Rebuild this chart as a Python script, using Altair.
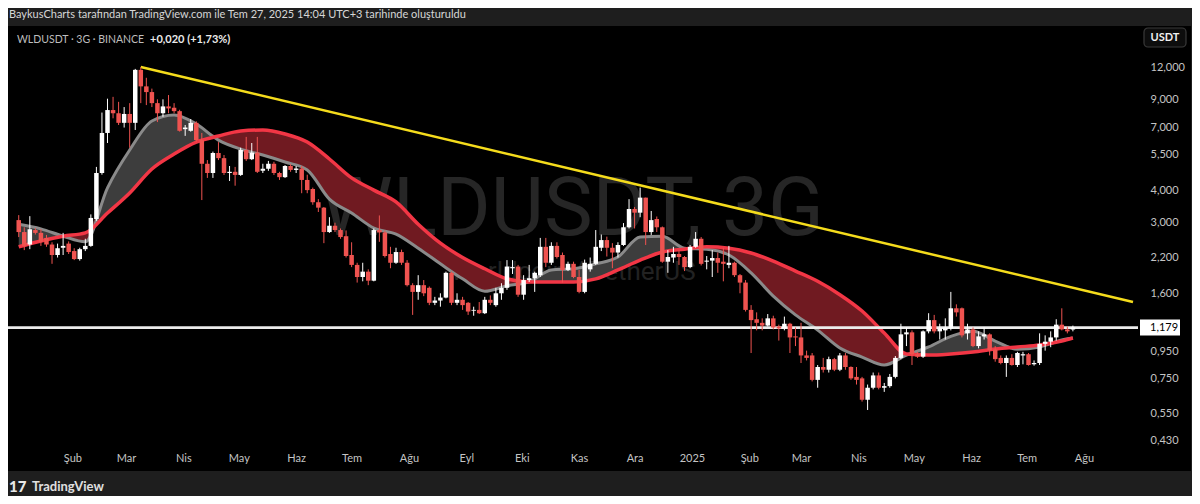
import altair as alt
import pandas as pd

# ---------------- data ----------------
FIRST_BAR = "2024-01-03"      # first 3-day candle
BAR_FREQ = "3D"

OPEN = [3.07, 2.76, 2.47, 2.81, 2.74, 2.62, 2.47, 2.25, 2.40, 2.49,
        2.33, 2.17, 2.37, 2.44, 3.10, 4.67, 6.67, 8.18, 7.95, 7.30,
        7.90, 7.30, 11.70, 10.10, 9.60, 8.70, 7.95, 8.45, 8.35, 8.10,
        6.90, 6.80, 7.30, 6.26, 5.07, 4.67, 5.58, 5.33, 4.67, 4.72,
        4.59, 5.73, 5.28, 5.60, 4.76, 4.85, 5.07, 4.67, 4.50, 4.97,
        4.80, 4.86, 4.39, 4.05, 3.60, 3.43, 2.76, 2.92, 2.81, 2.66,
        2.25, 2.06, 1.85, 1.94, 1.79, 2.81, 2.75, 2.27, 2.10, 2.31,
        2.10, 1.72, 1.62, 1.72, 1.68, 1.47, 1.50, 1.54, 1.92, 1.47,
        1.51, 1.47, 1.37, 1.38, 1.34, 1.51, 1.44, 1.60, 1.68, 2.00,
        2.03, 1.58, 1.80, 1.83, 1.88, 2.42, 2.10, 2.44, 2.25, 1.97,
        2.08, 1.85, 1.62, 1.98, 2.08, 2.40, 2.57, 2.40, 2.30, 2.46,
        2.88, 3.39, 3.28, 3.75, 2.76, 3.10, 2.88, 2.12, 2.20, 2.27,
        2.21, 2.02, 2.42, 2.60, 2.12, 2.14, 2.19, 2.12, 2.06, 2.10,
        1.88, 1.76, 1.38, 1.27, 1.23, 1.20, 1.28, 1.19, 1.17, 1.22,
        1.09, 1.08, 0.92, 0.92, 0.74, 0.83, 0.81, 0.89, 0.81, 0.92,
        0.83, 0.76, 0.75, 0.62, 0.69, 0.77, 0.69, 0.70, 0.76, 0.90,
        1.11, 1.13, 0.93, 0.91, 1.14, 1.26, 1.14, 1.15, 1.17, 1.40,
        1.40, 1.12, 1.16, 1.00, 1.09, 1.11, 0.97, 0.90, 0.86, 0.90,
        0.845, 0.92, 0.93, 0.85, 0.86, 1.02, 1.04, 1.08, 1.21, 1.16,
        1.159]

HIGH = [3.21, 2.88, 3.18, 2.86, 2.83, 2.69, 2.52, 2.49, 2.74, 2.54,
        2.39, 2.40, 2.60, 3.23, 4.93, 8.00, 9.05, 9.20, 8.80, 8.40,
        8.70, 11.80, 12.00, 10.90, 9.90, 9.00, 9.00, 9.35, 8.70, 8.20,
        7.16, 7.55, 7.40, 6.67, 5.24, 5.65, 6.15, 5.48, 4.97, 4.93,
        5.85, 6.44, 6.10, 6.44, 5.07, 5.20, 5.16, 4.72, 5.01, 5.05,
        4.97, 4.97, 4.60, 4.10, 3.70, 3.45, 3.15, 3.00, 2.85, 2.80,
        2.52, 2.10, 2.10, 1.98, 2.85, 3.20, 2.80, 2.42, 2.40, 2.36,
        2.15, 1.75, 1.88, 1.80, 1.70, 1.55, 1.60, 1.94, 1.94, 1.60,
        1.55, 1.48, 1.42, 1.48, 1.55, 1.57, 1.68, 1.75, 2.15, 2.15,
        2.06, 1.88, 2.06, 1.94, 2.62, 2.62, 2.52, 2.52, 2.30, 2.12,
        2.12, 1.97, 2.16, 2.20, 2.81, 2.70, 2.65, 2.50, 2.52, 2.99,
        3.70, 3.45, 4.10, 3.75, 3.33, 3.17, 2.90, 2.35, 2.42, 2.35,
        2.23, 2.46, 2.76, 2.64, 2.23, 2.35, 2.30, 2.40, 2.44, 2.12,
        1.90, 1.80, 1.44, 1.35, 1.28, 1.33, 1.31, 1.21, 1.30, 1.23,
        1.18, 1.23, 0.96, 0.94, 0.845, 0.90, 0.91, 0.90, 0.94, 0.94,
        0.835, 0.83, 0.76, 0.71, 0.79, 0.79, 0.72, 0.78, 0.915, 1.22,
        1.18, 1.15, 0.95, 1.15, 1.34, 1.32, 1.22, 1.28, 1.62, 1.45,
        1.41, 1.22, 1.18, 1.14, 1.18, 1.12, 1.00, 0.92, 0.92, 0.93,
        0.95, 0.95, 0.94, 0.88, 1.12, 1.10, 1.14, 1.27, 1.40, 1.19,
        1.20]

LOW = [2.64, 2.35, 2.37, 2.70, 2.44, 2.42, 2.08, 2.20, 2.25, 2.27,
       2.15, 2.14, 2.33, 2.42, 3.05, 4.60, 6.10, 7.60, 7.16, 7.00,
       5.85, 6.85, 8.70, 8.55, 8.40, 7.35, 7.70, 7.95, 7.95, 6.75,
       6.50, 6.75, 6.15, 3.67, 4.47, 4.47, 5.24, 4.59, 4.35, 4.17,
       4.55, 5.20, 5.24, 4.67, 4.67, 4.76, 4.59, 4.39, 4.47, 4.72,
       4.67, 3.90, 3.90, 3.52, 3.30, 2.50, 2.74, 2.76, 2.60, 2.20,
       2.02, 1.76, 1.78, 1.72, 1.78, 2.53, 2.20, 2.00, 2.08, 2.06,
       1.70, 1.32, 1.51, 1.56, 1.44, 1.44, 1.42, 1.53, 1.44, 1.44,
       1.38, 1.32, 1.31, 1.33, 1.33, 1.44, 1.42, 1.51, 1.65, 1.90,
       1.55, 1.51, 1.77, 1.62, 1.85, 2.02, 2.06, 2.18, 1.76, 1.95,
       1.83, 1.60, 1.60, 1.94, 2.06, 2.33, 2.22, 2.00, 2.20, 2.44,
       2.85, 2.85, 3.15, 2.46, 2.69, 2.76, 2.10, 1.92, 2.10, 2.06,
       1.95, 2.00, 2.40, 2.05, 1.98, 1.85, 1.92, 1.78, 2.00, 1.85,
       1.60, 1.36, 0.94, 1.15, 1.15, 1.19, 1.16, 1.05, 1.15, 0.94,
       1.00, 0.86, 0.88, 0.73, 0.69, 0.79, 0.79, 0.80, 0.80, 0.81,
       0.74, 0.71, 0.61, 0.566, 0.68, 0.68, 0.665, 0.69, 0.75, 0.89,
       1.00, 0.845, 0.90, 0.90, 1.12, 1.12, 1.06, 1.06, 1.15, 1.30,
       1.08, 1.06, 0.99, 0.98, 1.06, 0.92, 0.87, 0.85, 0.76, 0.84,
       0.83, 0.85, 0.84, 0.84, 0.845, 0.96, 0.99, 1.05, 1.15, 1.12,
       1.14]

CLOSE = [2.76, 2.44, 2.83, 2.74, 2.53, 2.47, 2.25, 2.39, 2.44, 2.31,
         2.17, 2.37, 2.44, 3.13, 4.67, 6.67, 8.18, 7.95, 7.30, 7.90,
         7.30, 11.70, 10.10, 9.60, 8.70, 7.95, 8.45, 8.30, 8.10, 6.80,
         7.00, 7.30, 6.26, 5.07, 4.67, 5.58, 5.33, 4.67, 4.72, 4.59,
         5.73, 5.28, 5.60, 4.72, 4.85, 5.07, 4.67, 4.50, 4.97, 4.80,
         4.86, 4.39, 4.01, 3.60, 3.43, 2.76, 2.92, 2.81, 2.64, 2.23,
         2.06, 1.85, 1.94, 1.79, 2.81, 2.75, 2.23, 2.10, 2.31, 2.10,
         1.72, 1.62, 1.72, 1.60, 1.47, 1.50, 1.54, 1.92, 1.47, 1.51,
         1.44, 1.36, 1.38, 1.34, 1.51, 1.47, 1.60, 1.68, 2.03, 2.02,
         1.58, 1.80, 1.83, 1.92, 2.42, 2.10, 2.44, 2.21, 1.97, 2.08,
         1.85, 1.62, 2.10, 2.08, 2.42, 2.57, 2.40, 2.30, 2.46, 2.88,
         3.39, 3.28, 3.75, 2.76, 3.07, 2.88, 2.12, 2.21, 2.27, 2.21,
         2.02, 2.42, 2.60, 2.08, 2.14, 2.19, 2.10, 2.08, 2.10, 1.88,
         1.76, 1.38, 1.26, 1.23, 1.20, 1.28, 1.18, 1.17, 1.22, 1.08,
         1.08, 0.92, 0.90, 0.74, 0.83, 0.81, 0.89, 0.81, 0.92, 0.83,
         0.75, 0.74, 0.62, 0.69, 0.77, 0.69, 0.70, 0.76, 0.90, 1.11,
         1.13, 0.93, 0.91, 1.14, 1.26, 1.14, 1.17, 1.18, 1.40, 1.35,
         1.10, 1.16, 1.00, 1.09, 1.11, 0.965, 0.89, 0.86, 0.90, 0.845,
         0.94, 0.93, 0.845, 0.86, 1.02, 1.04, 1.08, 1.21, 1.16, 1.14,
         1.179]

# moving-average ribbon, read at every 4th candle (plus the last one)
MA_BARS = list(range(0, 189, 4)) + [190]
FAST = [2.96, 2.84, 2.66, 2.53, 4.09, 5.73, 7.42, 7.83, 7.22, 6.26,
        5.78, 5.48, 5.15, 4.80, 3.70, 3.27, 2.86, 2.71, 2.39, 2.08,
        1.82, 1.63, 1.71, 1.77, 1.97, 1.99, 2.08, 2.21, 2.64, 2.66,
        2.39, 2.37, 2.25, 1.92, 1.56, 1.32, 1.153, 0.983, 0.907, 0.845,
        0.923, 0.992, 1.09, 1.14, 1.046, 0.973, 0.992, 1.055, 1.074]
SLOW = [2.42, 2.55, 2.66, 2.74, 3.27, 3.91, 4.84, 5.53, 6.15, 6.49,
        6.79, 6.85, 6.61, 6.15, 5.29, 4.47, 4.01, 3.61, 2.96, 2.50,
        2.20, 1.99, 1.82, 1.77, 1.77, 1.77, 1.82, 1.97, 2.15, 2.31,
        2.37, 2.42, 2.39, 2.29, 2.13, 1.95, 1.78, 1.58, 1.366, 1.123,
        0.932, 0.923, 0.932, 0.948, 0.974, 0.992, 1.009, 1.046, 1.074]

# yellow trend line (from the March 2024 top to the right edge)
TREND_DATES = ["2024-03-09T00:00:00", "2025-08-27T12:00:00"]
TREND_PRICES = [12.0, 1.48]

LAST_PRICE = 1.179
LAST_LABEL = "1,179"
Y_TICKS = [0.43, 0.55, 0.75, 0.95, 1.6, 2.2, 3.0, 4.0, 5.5, 7.0, 9.0, 12.0]
MONTHS_TR = ["Oca", "Şub", "Mar", "Nis", "May", "Haz",
             "Tem", "Ağu", "Eyl", "Eki", "Kas", "Ara"]
TICK_MONTHS = [(2024, m) for m in range(2, 13)] + [(2025, m) for m in range(1, 9)]

HEADER = "BaykusCharts tarafından TradingView.com ile Tem 27, 2025 14:04 UTC+3 tarihinde oluşturuldu"
LEGEND_SYMBOL = "WLDUSDT · 3G · BINANCE"
LEGEND_CHANGE = "+0,020 (+1,73%)"
WATERMARK_1 = "WLDUSDT, 3G"
WATERMARK_2 = "Worldcoin / TetherUS"

# ---------------- tables ----------------
dates = pd.date_range(FIRST_BAR, periods=len(OPEN), freq=BAR_FREQ)
fmt = "%Y-%m-%dT%H:%M:%S"
candles = pd.DataFrame({
    "t": dates.strftime(fmt), "o": OPEN, "h": HIGH, "l": LOW, "c": CLOSE,
})
ma = pd.DataFrame({
    "t": [dates[i].strftime(fmt) for i in MA_BARS], "fast": FAST, "slow": SLOW,
})
trend = pd.DataFrame({"t": TREND_DATES, "p": TREND_PRICES})
last = pd.DataFrame({"p": [LAST_PRICE], "lab": [LAST_LABEL]})
one = pd.DataFrame({"a": [0]})

FONT = "Lato"
W, H = 1130, 419

x_scale = alt.Scale(domain=[alt.DateTime(year=2023, month=12, date=30, hours=21, minutes=40),
                            alt.DateTime(year=2025, month=8, date=27, hours=12)])
y_scale = alt.Scale(type="log", domain=[0.4144, 17.29], nice=False)

month_arr = "[" + ",".join("'%s'" % m for m in MONTHS_TR) + "]"
x_axis = alt.Axis(
    values=[alt.DateTime(year=y, month=m, date=1) for y, m in TICK_MONTHS],
    labelExpr="month(datum.value) == 0 ? timeFormat(datum.value, '%Y') : " + month_arr + "[month(datum.value)]",
    domain=False, ticks=False, grid=False, labelFlush=False, labelOverlap=False,
    labelColor="#c4c4c4", labelFont=FONT, labelFontSize=11, labelPadding=13,
    labelBaseline="middle", title=None, zindex=1,
)
y_axis = alt.Axis(
    values=Y_TICKS, orient="right",
    labelExpr="replace(format(datum.value, '.3f'), '.', ',')",
    domain=False, ticks=False, grid=False, labelOverlap=False, labelFlush=False,
    labelColor="#c4c4c4", labelFont=FONT, labelFontSize=11, labelPadding=12,
    labelAlign="left", labelBaseline="middle", title=None, zindex=1,
)

X = lambda f: alt.X(f, type="temporal", scale=x_scale, axis=x_axis)
Y = lambda f: alt.Y(f, type="quantitative", scale=y_scale, axis=y_axis)

# frame pieces (header bar, footer bar, right strip)
header_bar = alt.Chart(one).mark_rect(color="#1e1e1e").encode(
    x=alt.value(-10), x2=alt.value(1200), y=alt.value(-30), y2=alt.value(0))
footer_bar = alt.Chart(one).mark_rect(color="#1e1e1e").encode(
    x=alt.value(-10), x2=alt.value(1200), y=alt.value(445), y2=alt.value(490))
right_strip = alt.Chart(one).mark_rect(color="#1e1e1e").encode(
    x=alt.value(1183), x2=alt.value(1200), y=alt.value(-30), y2=alt.value(490))

wm1 = alt.Chart(one).mark_text(text=WATERMARK_1, font="Roboto", fontSize=82,
                               color="#262626", align="center", baseline="middle").encode(
    x=alt.value(564), y=alt.value(184))
wm2 = alt.Chart(one).mark_text(text=WATERMARK_2, font="Roboto", fontSize=26,
                               color="#222222", align="center", baseline="middle").encode(
    x=alt.value(565), y=alt.value(246))

base_ma = alt.Chart(ma).transform_calculate(hi="max(datum.fast, datum.slow)")
gray_fill = base_ma.mark_area(color="#3d3d3d", interpolate="monotone").encode(
    x=X("t"), y=Y("hi"), y2="slow")
red_fill = base_ma.mark_area(color="#701a21", interpolate="monotone").encode(
    x=X("t"), y=Y("hi"), y2="fast")
gray_line = alt.Chart(ma).mark_line(color="#8a8a8a", strokeWidth=3, interpolate="monotone").encode(
    x=X("t"), y=Y("fast"))
red_line = alt.Chart(ma).mark_line(color="#f23645", strokeWidth=3.5, interpolate="monotone").encode(
    x=X("t"), y=Y("slow"))

trend_line = alt.Chart(trend).mark_line(color="#f5dc1c", strokeWidth=2.5).encode(
    x=X("t"), y=Y("p"))

hline = alt.Chart(last).mark_rule(color="#ececec", strokeWidth=2.8).encode(y=Y("p"))

candle_color = alt.condition("datum.c >= datum.o", alt.value("#ffffff"), alt.value("#ef5350"))
wicks = alt.Chart(candles).mark_rule(strokeWidth=1).encode(
    x=X("t"), y=Y("l"), y2="h", color=candle_color)
bodies = alt.Chart(candles).mark_bar(width=4.5).encode(
    x=X("t"), y=Y("o"), y2="c", color=candle_color)

price_box = alt.Chart(last).mark_rule(color="#ffffff", strokeWidth=16).encode(
    x=alt.value(1132), x2=alt.value(1172), y=Y("p"))
price_txt = alt.Chart(last).mark_text(font=FONT, fontSize=11, color="#000000",
                                      align="left", baseline="middle").encode(
    x=alt.value(1142), y=Y("p"), text="lab:N")

header_txt = alt.Chart(one).mark_text(text=HEADER, font=FONT, fontSize=11, color="#d6d6d6",
                                      align="left", baseline="middle").encode(
    x=alt.value(1), y=alt.value(-11))
legend1 = alt.Chart(one).mark_text(text=LEGEND_SYMBOL, font=FONT, fontSize=10.5, color="#bdbdbd",
                                   align="left", baseline="middle").encode(
    x=alt.value(9), y=alt.value(14))
legend2 = alt.Chart(one).mark_text(text=LEGEND_CHANGE, font=FONT, fontSize=11, fontWeight="bold",
                                   color="#ebebeb", align="left", baseline="middle").encode(
    x=alt.value(142), y=alt.value(14))
usdt_box = alt.Chart(one).mark_rect(fill="#0d0d0d", stroke="#3a3a3a", strokeWidth=1.2,
                                    cornerRadius=4).encode(
    x=alt.value(1136), x2=alt.value(1178), y=alt.value(2), y2=alt.value(21))
usdt_txt = alt.Chart(one).mark_text(text="USDT", font=FONT, fontSize=11, fontWeight="bold",
                                    color="#f0f0f0", align="center", baseline="middle").encode(
    x=alt.value(1157), y=alt.value(12))
logo = alt.Chart(one).mark_text(text="17", font=FONT, fontSize=15, fontWeight=900,
                                color="#e8e8e8", align="left", baseline="middle").encode(
    x=alt.value(1), y=alt.value(461))
brand = alt.Chart(one).mark_text(text="TradingView", font=FONT, fontSize=13, fontWeight="bold",
                                 color="#e0e0e0", align="left", baseline="middle").encode(
    x=alt.value(24), y=alt.value(461))

chart = alt.layer(
    header_bar, footer_bar, right_strip, wm1, wm2,
    gray_fill, red_fill, gray_line, red_line, trend_line, hline,
    wicks, bodies, price_box, price_txt,
    header_txt, legend1, legend2, usdt_box, usdt_txt, logo, brand,
).properties(
    width=W, height=H,
    autosize=alt.AutoSizeParams(type="none"),
    padding={"top": 18, "left": 0, "right": 54, "bottom": 51},
    background="#000000",
).configure_view(strokeWidth=0)

chart.save("out.html", embed_options={"renderer": "svg", "actions": False})
